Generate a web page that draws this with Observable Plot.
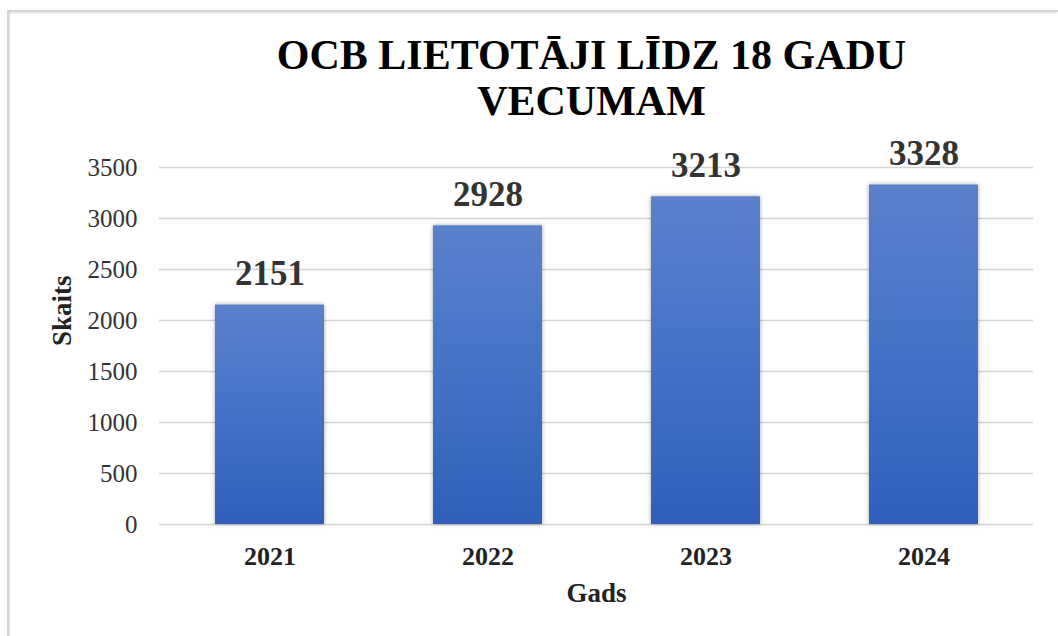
<!DOCTYPE html>
<html>
<head>
<meta charset="utf-8">
<script src="https://cdn.jsdelivr.net/npm/d3@7"></script>
<script src="https://cdn.jsdelivr.net/npm/@observablehq/plot@0.6"></script>
<style>
  html, body { margin: 0; padding: 0; background: #fff; }
  #wrap { position: relative; width: 1058px; height: 636px; overflow: hidden; background: #fff; }
  .bt { position: absolute; left: 7px; top: 10px; right: 0; height: 2px; background: #d6d6d6; box-shadow: 0 1px 2px rgba(0,0,0,0.12); }
  .bl { position: absolute; left: 7px; top: 10px; bottom: 0; width: 2px; background: #d6d6d6; box-shadow: 1px 0 2px rgba(0,0,0,0.12); }
  #chart { position: absolute; left: 0; top: 0; }
  #chart svg { overflow: visible; }
  #chart g[aria-label="bar"] { filter: drop-shadow(0 0 2px rgba(0,0,0,0.35)); }
</style>
</head>
<body>
<div id="wrap">
  <div class="bt"></div>
  <div class="bl"></div>
  <div id="chart"></div>
</div>
<script>
const titleLines = ["OCB LIETOTĀJI LĪDZ 18 GADU", "VECUMAM"];
const years = ["2021", "2022", "2023", "2024"];
const counts = [2151, 2928, 3213, 3328];
const yTicks = [0, 500, 1000, 1500, 2000, 2500, 3000, 3500];
const xTitle = "Gads";
const yTitle = "Skaits";

const serif = "'Liberation Serif', 'Times New Roman', serif";

const data = years.map((y, i) => ({year: y, value: counts[i]}));

const plot = Plot.plot({
  width: 1058,
  height: 636,
  marginTop: 167,
  marginBottom: 112,
  marginLeft: 159,
  marginRight: 25,
  style: {fontFamily: serif, background: "transparent", overflow: "visible"},
  x: {domain: years, paddingInner: 0.5, paddingOuter: 0.25, label: null},
  y: {domain: [0, 3500], label: null},
  marks: [
    () => {
      const ns = "http://www.w3.org/2000/svg";
      const defs = document.createElementNS(ns, "defs");
      const g = document.createElementNS(ns, "linearGradient");
      g.setAttribute("id", "barGrad");
      g.setAttribute("x1", "0"); g.setAttribute("y1", "0");
      g.setAttribute("x2", "0"); g.setAttribute("y2", "1");
      [["0%", "#5b80cc"], ["50%", "#4472c6"], ["100%", "#2f5fba"]].forEach(([o, c]) => {
        const s = document.createElementNS(ns, "stop");
        s.setAttribute("offset", o);
        s.setAttribute("stop-color", c);
        g.appendChild(s);
      });
      defs.appendChild(g);
      return defs;
    },
    Plot.text([titleLines[0]], {frameAnchor: "top", text: d => d, dx: -5, dy: -99, lineAnchor: "bottom",
      fontSize: 42, fontWeight: "bold", fill: "#000"}),
    Plot.text([titleLines[1]], {frameAnchor: "top", text: d => d, dx: -5, dy: -53, lineAnchor: "bottom",
      fontSize: 42, fontWeight: "bold", fill: "#000"}),
    Plot.gridY(yTicks, {stroke: "#d4d4d4", strokeOpacity: 1, strokeWidth: 1.5}),
    Plot.axisY(yTicks, {tickSize: 0, tickPadding: 22, fontSize: 25, fill: "#333", label: null, tickFormat: d => String(d)}),
    Plot.axisX({tickSize: 0, tickPadding: 22, fontSize: 26, fontWeight: "bold", fill: "#222", label: null}),
    Plot.barY(data, {x: "year", y: "value", fill: "url(#barGrad)"}),
    Plot.text(data, {x: "year", y: "value", text: d => String(d.value), dy: -20, lineAnchor: "bottom",
      fontSize: 35, fontWeight: "bold", fill: "#333"}),
    Plot.text([xTitle], {frameAnchor: "bottom", text: d => d, dy: 69, lineAnchor: "middle",
      fontSize: 27, fontWeight: "bold", fill: "#222"}),
    Plot.text([yTitle], {frameAnchor: "left", text: d => d, dx: -97, rotate: -90, lineAnchor: "middle",
      fontSize: 27, fontWeight: "bold", fill: "#222"})
  ]
});
document.getElementById("chart").appendChild(plot);
</script>
</body>
</html>
